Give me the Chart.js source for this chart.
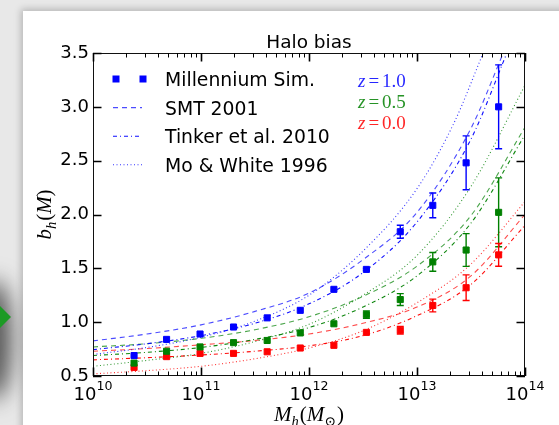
<!DOCTYPE html>
<html>
<head>
<meta charset="utf-8">
<script src="https://cdn.jsdelivr.net/npm/chart.js@4.4.0/dist/chart.umd.min.js"></script>
<style>
  html, body { margin: 0; padding: 0; }
  body { width: 559px; height: 425px; overflow: hidden; background: #e8e8e8; position: relative; }
  #panel { position: absolute; left: 23px; top: 11px; width: 560px; height: 440px; background: #fff; box-shadow: 0 0 7px 2px rgba(0,0,0,0.22); }
  #smudge { position: absolute; left: -24px; top: 280px; width: 36px; height: 120px; background: #555; filter: blur(11px); border-radius: 50%; }
  #arrow { position: absolute; left: 0; top: 306px; width: 0; height: 0; border-top: 11px solid transparent; border-bottom: 11px solid transparent; border-left: 11px solid #1c9a25; }
  canvas { position: absolute; left: 0; top: 0; }
</style>
</head>
<body>
<div id="smudge"></div>
<div id="arrow"></div>
<div id="panel"></div>
<canvas id="haloChart" width="559" height="425"></canvas>
<script>
// Millennium simulation measurements (halo mass bins, bias, error)
var massBins = [2.4e10, 4.8e10, 9.8e10, 2.0e11, 4.1e11, 8.3e11, 1.7e12, 3.4e12, 7.0e12, 1.4e13, 2.85e13, 5.7e13];
var simZ10 = [0.69, 0.84, 0.89, 0.955, 1.04, 1.11, 1.305, 1.49, 1.84, 2.085, 2.48, 3.0];
var errZ10 = [0, 0, 0, 0, 0, 0, 0, 0.01, 0.06, 0.115, 0.25, 0.39];
var simZ05 = [0.62, 0.73, 0.77, 0.81, 0.83, 0.90, 0.985, 1.07, 1.21, 1.56, 1.67, 2.02];
var errZ05 = [0, 0, 0, 0, 0, 0, 0, 0.035, 0.055, 0.087, 0.152, 0.32];
var simZ00 = [0.58, 0.68, 0.71, 0.71, 0.725, 0.76, 0.785, 0.905, 0.925, 1.155, 1.32, 1.625];
var errZ00 = [0, 0, 0, 0, 0, 0, 0, 0, 0.035, 0.059, 0.119, 0.105];

// model curves
var modelMass = [1e10, 3.16e10, 1e11, 3.16e11, 1e12, 3.16e12, 1e13, 3.16e13, 1e14];
var smtZ10Mass = [1e10, 3.16e10, 1e11, 3.16e11, 1e12, 3.16e12, 1e13, 3.16e13, 6.3e13];
var smtZ10 = [0.826, 0.89, 0.975, 1.10, 1.27, 1.58, 2.02, 2.80, 3.5];
var tinkerZ10Mass = [1e10, 3.16e10, 1e11, 3.16e11, 1e12, 3.16e12, 1e13, 3.16e13, 6.8e13];
var tinkerZ10 = [0.745, 0.80, 0.875, 0.99, 1.17, 1.46, 1.93, 2.70, 3.5];
var moWhiteZ10Mass = [1e10, 3.16e10, 1e11, 3.16e11, 1e12, 3.16e12, 1e13, 2.2e13, 4.1e13];
var moWhiteZ10 = [0.70, 0.765, 0.86, 1.01, 1.25, 1.66, 2.24, 2.85, 3.5];
var smtZ05 = [0.77, 0.80, 0.85, 0.93, 1.05, 1.24, 1.52, 1.99, 2.81];
var tinkerZ05 = [0.69, 0.72, 0.765, 0.84, 0.95, 1.14, 1.43, 1.92, 2.74];
var moWhiteZ05 = [0.59, 0.645, 0.71, 0.82, 0.98, 1.25, 1.62, 2.26, 3.20];
var smtZ00 = [0.73, 0.755, 0.79, 0.83, 0.89, 0.99, 1.14, 1.43, 2.00];
var tinkerZ00 = [0.65, 0.67, 0.695, 0.73, 0.78, 0.875, 1.06, 1.35, 1.90];
var moWhiteZ00 = [0.52, 0.55, 0.59, 0.66, 0.76, 0.92, 1.18, 1.54, 2.12];

var yTicks = [0.5, 1.0, 1.5, 2.0, 2.5, 3.0, 3.5];
var xDecades = [10, 11, 12, 13, 14];
var legendNames = ['Millennium Sim.', 'SMT 2001', 'Tinker et al. 2010', 'Mo & White 1996'];
var zLabels = ['1.0', '0.5', '0.0'];
var zColors = ['#0000ff', '#008000', '#ff0000'];

var dashes = { smt: [5, 4], tinker: [4, 3, 1, 3], moWhite: [1, 2.5] };
var alphas = { smt: 0.7, tinker: 0.95, moWhite: 0.8 };

function pts(xs, ys) {
    return xs.map(function (x, i) { return { x: x, y: ys[i] }; });
}
function fade(hex, a) {
    var r = parseInt(hex.substr(1, 2), 16), g = parseInt(hex.substr(3, 2), 16), b = parseInt(hex.substr(5, 2), 16);
    return 'rgba(' + r + ',' + g + ',' + b + ',' + a + ')';
}
function simSet(ys, errs, color) {
    return {
        data: pts(massBins, ys), errors: errs, showLine: false,
        pointStyle: 'rect', pointRadius: 4.3, pointHoverRadius: 4.3,
        backgroundColor: color, borderColor: color, borderWidth: 1
    };
}
function modelSet(xs, ys, color, kind) {
    return {
        data: pts(xs, ys), showLine: true, pointRadius: 0, pointHoverRadius: 0,
        borderColor: fade(color, alphas[kind]), borderWidth: 1.1, borderDash: dashes[kind],
        cubicInterpolationMode: 'monotone', fill: false
    };
}

var datasets = [
    simSet(simZ10, errZ10, zColors[0]),
    simSet(simZ05, errZ05, zColors[1]),
    simSet(simZ00, errZ00, zColors[2]),
    modelSet(smtZ10Mass, smtZ10, zColors[0], 'smt'),
    modelSet(tinkerZ10Mass, tinkerZ10, zColors[0], 'tinker'),
    modelSet(moWhiteZ10Mass, moWhiteZ10, zColors[0], 'moWhite'),
    modelSet(modelMass, smtZ05, zColors[1], 'smt'),
    modelSet(modelMass, tinkerZ05, zColors[1], 'tinker'),
    modelSet(modelMass, moWhiteZ05, zColors[1], 'moWhite'),
    modelSet(modelMass, smtZ00, zColors[2], 'smt'),
    modelSet(modelMass, tinkerZ00, zColors[2], 'tinker'),
    modelSet(modelMass, moWhiteZ00, zColors[2], 'moWhite')
];

var SANS = '"DejaVu Sans", sans-serif';
var SERIF = '"Liberation Serif", "DejaVu Serif", serif';

// draws a run of [text, fontSize, italic, yShift, gapAfter] pieces starting at x
function mathRun(ctx, parts, x, y, measureOnly) {
    var w = 0;
    parts.forEach(function (p) {
        ctx.font = (p[2] ? 'italic ' : '') + p[1] + 'px ' + SERIF;
        if (!measureOnly) ctx.fillText(p[0], x + w, y + (p[3] || 0));
        w += ctx.measureText(p[0]).width + (p[4] || 0);
    });
    return w;
}

var haloDecor = {
    id: 'haloDecor',
    afterDatasetsDraw: function (chart) {
        var ctx = chart.ctx, xs = chart.scales.x, ys = chart.scales.y;
        ctx.save();
        [0, 1, 2].forEach(function (i) {
            var ds = chart.data.datasets[i];
            ctx.strokeStyle = ds.borderColor;
            ctx.lineWidth = 1.4;
            ds.data.forEach(function (p, j) {
                var e = ds.errors[j];
                if (!e) return;
                var px = xs.getPixelForValue(p.x);
                var top = ys.getPixelForValue(p.y + e), bot = ys.getPixelForValue(p.y - e);
                ctx.beginPath();
                ctx.moveTo(px, top); ctx.lineTo(px, bot);
                ctx.moveTo(px - 3.5, top); ctx.lineTo(px + 3.5, top);
                ctx.moveTo(px - 3.5, bot); ctx.lineTo(px + 3.5, bot);
                ctx.stroke();
            });
        });
        ctx.restore();
    },
    afterDraw: function (chart) {
        var ctx = chart.ctx, a = chart.chartArea, xs = chart.scales.x, ys = chart.scales.y;
        ctx.save();
        // frame
        ctx.strokeStyle = '#111';
        ctx.lineWidth = 1;
        ctx.strokeRect(a.left + 0.5, a.top + 0.5, a.right - a.left - 1, a.bottom - a.top - 1);

        // inward ticks
        ctx.strokeStyle = '#000';
        xDecades.forEach(function (d) {
            for (var m = 1; m < 10; m++) {
                if (d === 14 && m > 1) break;
                var px = Math.round(xs.getPixelForValue(m * Math.pow(10, d))) + 0.5;
                var len = m === 1 ? 8.5 : 4.5;
                ctx.lineWidth = m === 1 ? 1.6 : 1;
                ctx.beginPath();
                ctx.moveTo(px, a.bottom); ctx.lineTo(px, a.bottom - len);
                ctx.moveTo(px, a.top); ctx.lineTo(px, a.top + len);
                ctx.stroke();
            }
        });
        ctx.lineWidth = 1.6;
        yTicks.forEach(function (v) {
            var py = Math.round(ys.getPixelForValue(v)) + 0.5;
            ctx.beginPath();
            ctx.moveTo(a.left, py); ctx.lineTo(a.left + 8.5, py);
            ctx.moveTo(a.right, py); ctx.lineTo(a.right - 8.5, py);
            ctx.stroke();
        });

        // x tick labels 10^n
        ctx.fillStyle = '#000';
        ctx.textAlign = 'left';
        ctx.textBaseline = 'alphabetic';
        xDecades.forEach(function (d) {
            var px = xs.getPixelForValue(Math.pow(10, d));
            ctx.font = '18px ' + SANS;
            var w1 = ctx.measureText('10').width;
            ctx.font = '12.6px ' + SANS;
            var w2 = ctx.measureText(String(d)).width;
            var x0 = px - (w1 + w2) / 2;
            ctx.font = '18px ' + SANS;
            ctx.fillText('10', x0, a.bottom + 24);
            ctx.font = '12.6px ' + SANS;
            ctx.fillText(String(d), x0 + w1, a.bottom + 14);
        });

        // title
        ctx.font = '18.5px ' + SANS;
        ctx.textAlign = 'center';
        ctx.fillText('Halo bias', (a.left + a.right) / 2, a.top - 5);
        ctx.textAlign = 'left';

        // x axis title  M_h(M_sun)
        var xParts = [['M', 21, true], ['h', 14.5, true, 5, 1], ['(', 21, false], ['M', 21, true], ['\u2299', 14, false, 5, 1], [')', 21, false]];
        var wx = mathRun(ctx, xParts, 0, 0, true);
        mathRun(ctx, xParts, (a.left + a.right) / 2 - wx / 2, 421);

        // y axis title  b_h(M)
        var yParts = [['b', 21, true], ['h', 14.5, true, 5, 1], ['(', 21, false], ['M', 21, true], [')', 21, false]];
        var wy = mathRun(ctx, yParts, 0, 0, true);
        ctx.save();
        ctx.translate(51, (a.top + a.bottom) / 2);
        ctx.rotate(-Math.PI / 2);
        mathRun(ctx, yParts, -wy / 2, 0);
        ctx.restore();

        // legend
        var lx = a.left + 20, tx = a.left + 72;
        legendNames.forEach(function (name, i) {
            var base = 86 + 28.6 * i, cy = base - 7;
            ctx.fillStyle = '#000';
            ctx.font = '18.8px ' + SANS;
            ctx.fillText(name, tx, base);
            if (i === 0) {
                ctx.fillStyle = zColors[0];
                ctx.fillRect(lx + 3 - 3.5, cy - 3.5, 7, 7);
                ctx.fillRect(lx + 30 - 3.5, cy - 3.5, 7, 7);
            } else {
                var kind = ['smt', 'tinker', 'moWhite'][i - 1];
                ctx.strokeStyle = fade(zColors[0], alphas[kind]);
                ctx.lineWidth = 1.1;
                ctx.setLineDash(dashes[kind]);
                ctx.beginPath();
                ctx.moveTo(lx, cy); ctx.lineTo(lx + 29, cy);
                ctx.stroke();
                ctx.setLineDash([]);
            }
        });

        // redshift labels
        zLabels.forEach(function (z, i) {
            ctx.fillStyle = fade(zColors[i], 0.85);
            mathRun(ctx, [['z', 19, true, 0, 3], ['=', 19, false, 0, 3], [z, 19, false]], 358, 86.5 + 21.2 * i);
        });
        ctx.restore();
    }
};

var chart = new Chart(document.getElementById('haloChart'), {
    type: 'scatter',
    data: { datasets: datasets },
    options: {
        responsive: false,
        animation: false,
        events: [],
        layout: { padding: { top: 53, right: 34, left: 0, bottom: 0 } },
        plugins: { legend: { display: false }, tooltip: { enabled: false }, title: { display: false } },
        scales: {
            x: {
                type: 'logarithmic', min: 1e10, max: 1e14,
                grid: { display: false, drawTicks: false }, border: { display: false },
                ticks: { display: false },
                afterFit: function (s) { s.height = 49; }
            },
            y: {
                min: 0.5, max: 3.5,
                grid: { display: false, drawTicks: false }, border: { display: false },
                ticks: {
                    stepSize: 0.5, padding: 4, color: '#000',
                    font: { family: '"DejaVu Sans"', size: 18 },
                    callback: function (v) { return v.toFixed(1); }
                },
                afterFit: function (s) { s.width = 93; }
            }
        }
    },
    plugins: [haloDecor]
});
</script>
</body>
</html>
